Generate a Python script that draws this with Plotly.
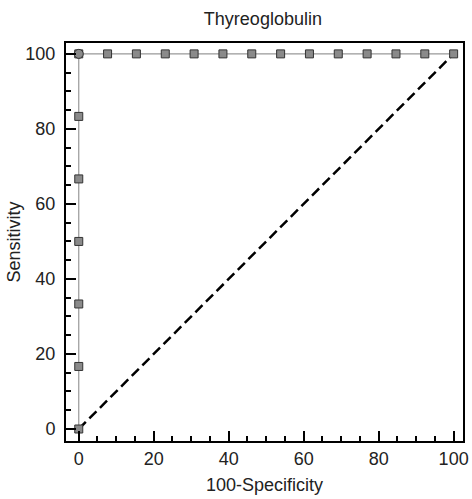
import plotly.graph_objects as go

# ROC curve data
roc_x = [0, 0, 0, 0, 0, 0, 0, 7.69, 15.38, 23.08, 30.77, 38.46, 46.15, 53.85, 61.54, 69.23, 76.92, 84.62, 92.31, 100]
roc_y = [0, 16.67, 33.33, 50, 66.67, 83.33, 100, 100, 100, 100, 100, 100, 100, 100, 100, 100, 100, 100, 100, 100]
diag_x = [0, 100]
diag_y = [0, 100]
opt_x = [0]
opt_y = [100]

FONT = "Liberation Sans, Arial, sans-serif"
FS = 18

fig = go.Figure()
fig.add_trace(go.Scatter(x=diag_x, y=diag_y, mode="lines",
                         line=dict(color="black", width=2.5, dash="10px,5px"),
                         hoverinfo="skip", showlegend=False))
fig.add_trace(go.Scatter(x=roc_x, y=roc_y, mode="lines+markers",
                         line=dict(color="#999999", width=1.2),
                         marker=dict(symbol="square", size=8, color="#8a8a8a",
                                     line=dict(color="#333333", width=1)),
                         showlegend=False))
fig.add_trace(go.Scatter(x=opt_x, y=opt_y, mode="markers",
                         marker=dict(symbol="circle", size=9, color="#8a8a8a",
                                     line=dict(color="#333333", width=1)),
                         showlegend=False))

axis_common = dict(
    showline=True, linecolor="black", linewidth=2, mirror=True,
    ticks="inside", ticklen=10, tickwidth=1.5, tickcolor="black",
    dtick=20, tick0=0, showgrid=False, zeroline=False, automargin=False,
    tickfont=dict(family=FONT, size=FS, color="#222"),
    minor=dict(ticks="inside", ticklen=5, tickwidth=1.5, tickcolor="black", dtick=5, showgrid=False),
)

fig.update_layout(
    width=472, height=499,
    margin=dict(l=66, r=9, t=43, b=58),
    paper_bgcolor="white", plot_bgcolor="white",
    title=dict(text="Thyreoglobulin", x=0.557, xanchor="center", y=0.962, yanchor="middle",
               font=dict(family=FONT, size=FS, color="#222")),
    xaxis=dict(range=[-3.4, 102.5],
               title=dict(text="100-Specificity", font=dict(family=FONT, size=FS, color="#222"), standoff=11),
               **axis_common),
    yaxis=dict(range=[-3.2, 102.9], ticklabelstandoff=5,
               title=dict(text="Sensitivity", font=dict(family=FONT, size=FS, color="#222"), standoff=0),
               **axis_common),
)

fig.write_html("out.html", config={"displayModeBar": False},
               post_script="document.body.style.margin='0';")
